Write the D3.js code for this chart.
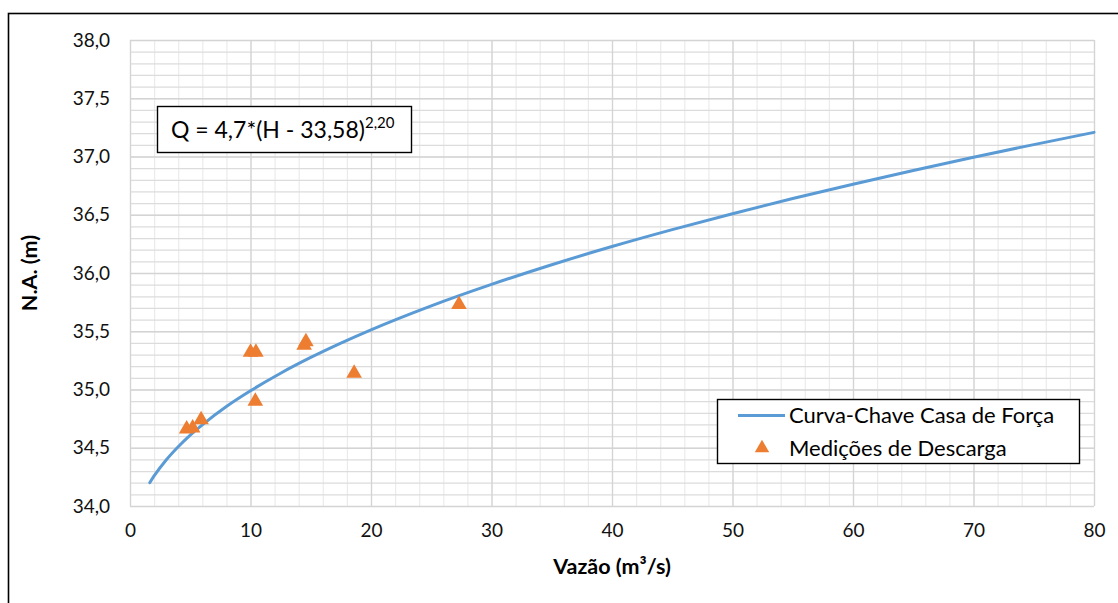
<!DOCTYPE html>
<html>
<head>
<meta charset="utf-8">
<script src="https://cdn.jsdelivr.net/npm/d3@7"></script>
<style>
  body { margin: 0; background: #fff; }
  svg { font-family: Lato, "Open Sans", sans-serif; }
</style>
</head>
<body>
<div id="chart"></div>
<script>
// rating curve (Q, H)
const curveQ = [1.64, 2, 3, 4, 5, 6, 8, 10, 12.5, 15, 17.5, 20, 25, 30, 35, 40, 45, 50, 55, 60, 65, 70, 75, 80];
const curveH = [34.2, 34.258, 34.395, 34.509, 34.609, 34.697, 34.854, 34.989, 35.14, 35.275, 35.398, 35.512,
  35.718, 35.902, 36.071, 36.227, 36.372, 36.509, 36.639, 36.762, 36.88, 36.994, 37.102, 37.207];

// discharge measurements
const measQ = [4.7, 5.2, 5.9, 10.0, 10.45, 10.4, 14.6, 14.45, 18.6, 27.3];
const measH = [34.66, 34.67, 34.74, 35.32, 35.32, 34.9, 35.41, 35.38, 35.14, 35.73];

const xTicks = [0, 10, 20, 30, 40, 50, 60, 70, 80];
const yTicks = [34.0, 34.5, 35.0, 35.5, 36.0, 36.5, 37.0, 37.5, 38.0];

const seriesNames = ["Curva-Chave Casa de Força", "Medições de Descarga"];
const equation = "Q = 4,7*(H - 33,58)";
const exponent = "2,20";

const W = 1118, H = 603;
const M = { top: 40, left: 130, right: 24, bottom: 97 };
const iw = W - M.left - M.right;
const ih = H - M.top - M.bottom;

const BLUE = "#5B9BD5", ORANGE = "#ED7D31";

const pt = d3.formatLocale({ decimal: ",", thousands: ".", grouping: [3], currency: ["R$", ""] });
const fmt1 = pt.format(".1f");

const svg = d3.select("#chart").append("svg")
  .attr("width", W).attr("height", H);

// outer chart border (clipped at right/bottom)
svg.append("rect")
  .attr("x", 8.5).attr("y", 13.5)
  .attr("width", W + 20).attr("height", H + 20)
  .attr("fill", "none").attr("stroke", "#000").attr("stroke-width", 1.6);

const g = svg.append("g").attr("transform", `translate(${M.left},${M.top})`);

const x = d3.scaleLinear().domain([0, 80]).range([0, iw]);
const y = d3.scaleLinear().domain([34, 38]).range([ih, 0]);

// minor gridlines
g.append("g").attr("class", "minor-x")
  .attr("transform", `translate(0,${ih})`)
  .call(d3.axisBottom(x).tickValues(d3.range(0, 80.001, 2)).tickSize(-ih).tickFormat(""))
  .call(s => s.select(".domain").remove())
  .call(s => s.selectAll("line").attr("stroke", "#ebebeb").attr("stroke-width", 1.2));
g.append("g").attr("class", "minor-y")
  .call(d3.axisLeft(y).tickValues(d3.range(34, 38.001, 0.1)).tickSize(-iw).tickFormat(""))
  .call(s => s.select(".domain").remove())
  .call(s => s.selectAll("line").attr("stroke", "#dcdcdc").attr("stroke-width", 1.2));

// major gridlines
g.append("g").attr("class", "major-y")
  .call(d3.axisLeft(y).tickValues(yTicks).tickSize(-iw).tickFormat(""))
  .call(s => s.select(".domain").remove())
  .call(s => s.selectAll("line").attr("stroke", "#d4d4d4").attr("stroke-width", 1.3));
g.append("g").attr("class", "major-x")
  .attr("transform", `translate(0,${ih})`)
  .call(d3.axisBottom(x).tickValues(xTicks).tickSize(-ih).tickFormat(""))
  .call(s => s.select(".domain").remove())
  .call(s => s.selectAll("line").attr("stroke", "#d4d4d4").attr("stroke-width", 1.3));

// axes labels
g.append("g")
  .call(d3.axisLeft(y).tickValues(yTicks).tickSize(0).tickPadding(20).tickFormat(fmt1))
  .call(s => s.select(".domain").remove())
  .call(s => s.selectAll("text").attr("font-size", 19).attr("fill", "#111")
    .attr("font-family", "Lato, sans-serif"));

g.append("g")
  .attr("transform", `translate(0,${ih})`)
  .call(d3.axisBottom(x).tickValues(xTicks).tickSize(0).tickPadding(18).tickFormat(d3.format("d")))
  .call(s => s.select(".domain").remove())
  .call(s => s.selectAll("text").attr("font-size", 19).attr("fill", "#111")
    .attr("font-family", "Lato, sans-serif"));

svg.append("text")
  .attr("x", M.left + iw / 2).attr("y", 574)
  .attr("text-anchor", "middle")
  .attr("font-size", 21.5).attr("font-weight", "bold")
  .text("Vazão (m³/s)");

svg.append("text")
  .attr("transform", `translate(37,${M.top + ih / 2}) rotate(-90)`)
  .attr("text-anchor", "middle")
  .attr("font-size", 21.5).attr("font-weight", "bold")
  .text("N.A. (m)");

// curve
const curveData = curveQ.map((q, i) => ({ q, h: curveH[i] }));
g.append("path")
  .datum(curveData)
  .attr("fill", "none")
  .attr("stroke", BLUE)
  .attr("stroke-width", 3)
  .attr("stroke-linecap", "round")
  .attr("d", d3.line().x(d => x(d.q)).y(d => y(d.h)).curve(d3.curveMonotoneX));

// measurements
const tri = d3.symbol().type(d3.symbolTriangle).size(105);
g.selectAll(".meas")
  .data(measQ.map((q, i) => ({ q, h: measH[i] })))
  .join("path")
  .attr("class", "meas")
  .attr("transform", d => `translate(${x(d.q)},${y(d.h)})`)
  .attr("d", tri)
  .attr("fill", ORANGE);

// equation box
const eq = svg.append("g").attr("transform", "translate(157,106)");
eq.append("rect")
  .attr("x", 0.5).attr("y", 0.5).attr("width", 254).attr("height", 46)
  .attr("fill", "#fff").attr("stroke", "#000").attr("stroke-width", 1.4);
const eqText = eq.append("text")
  .attr("x", 14).attr("y", 32)
  .attr("font-size", 23).attr("fill", "#000");
eqText.append("tspan").text(equation);
eqText.append("tspan").attr("dy", -10).attr("font-size", 15).text(exponent);

// legend
const lg = svg.append("g").attr("transform", "translate(717,399)");
lg.append("rect")
  .attr("x", 0.5).attr("y", 0.5).attr("width", 362).attr("height", 64)
  .attr("fill", "#fff").attr("stroke", "#000").attr("stroke-width", 1.4);
lg.append("line")
  .attr("x1", 21).attr("x2", 68).attr("y1", 16.5).attr("y2", 16.5)
  .attr("stroke", BLUE).attr("stroke-width", 3);
lg.append("path")
  .attr("transform", "translate(45,49)")
  .attr("d", d3.symbol().type(d3.symbolTriangle).size(90))
  .attr("fill", ORANGE);
lg.selectAll(".lt")
  .data(seriesNames)
  .join("text")
  .attr("class", "lt")
  .attr("x", 72)
  .attr("y", (d, i) => 24 + i * 33)
  .attr("font-size", 22).attr("fill", "#000")
  .text(d => d);
</script>
</body>
</html>
